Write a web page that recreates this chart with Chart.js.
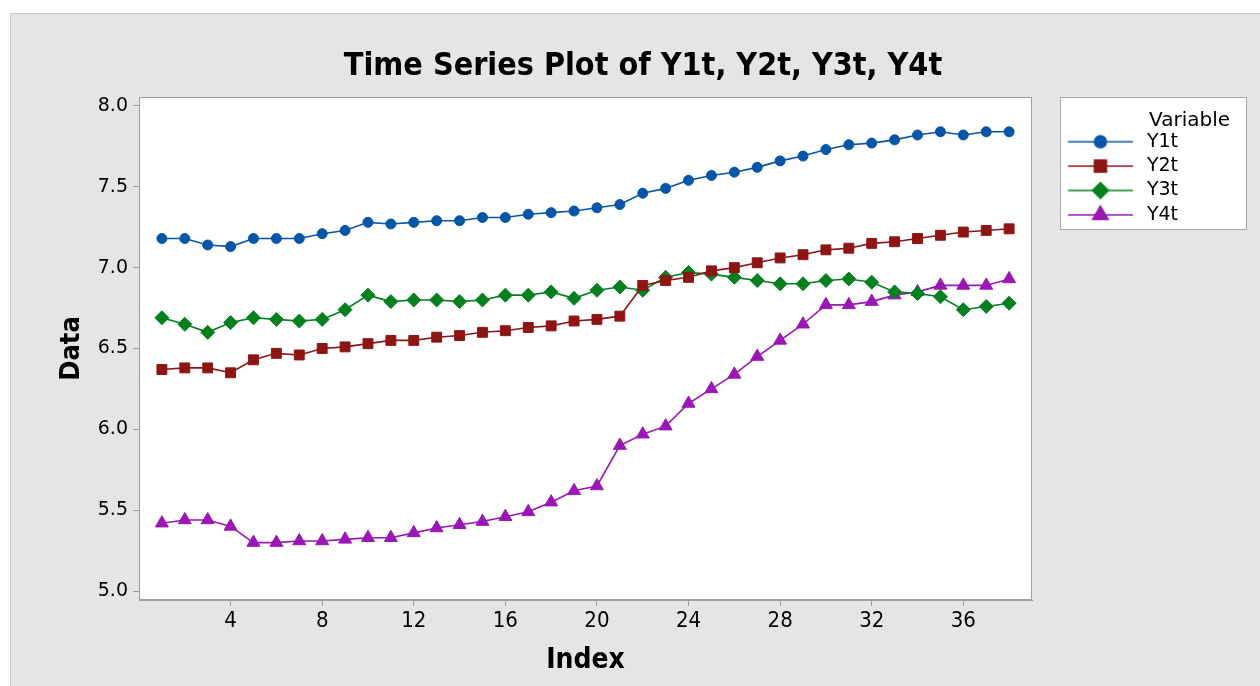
<!DOCTYPE html>
<html>
<head>
<meta charset="utf-8">
<script src="https://cdn.jsdelivr.net/npm/chart.js@4.4.1/dist/chart.umd.min.js"></script>
<style>
html,body{margin:0;padding:0;background:#fff;overflow:hidden}
#wrap{width:1260px;height:686px;position:relative}
</style>
</head>
<body>
<div id="wrap"><canvas id="c" width="1260" height="686"></canvas></div>
<script>
// ---------- data ----------
const indexValues = [1,2,3,4,5,6,7,8,9,10,11,12,13,14,15,16,17,18,19,20,21,22,23,24,25,26,27,28,29,30,31,32,33,34,35,36,37,38];
const y1t = [7.18,7.18,7.14,7.13,7.18,7.18,7.18,7.21,7.23,7.28,7.27,7.28,7.29,7.29,7.31,7.31,7.33,7.34,7.35,7.37,7.39,7.46,7.49,7.54,7.57,7.59,7.62,7.66,7.69,7.73,7.76,7.77,7.79,7.82,7.84,7.82,7.84,7.84];
const y2t = [6.37,6.38,6.38,6.35,6.43,6.47,6.46,6.50,6.51,6.53,6.55,6.55,6.57,6.58,6.60,6.61,6.63,6.64,6.67,6.68,6.70,6.89,6.92,6.94,6.98,7.00,7.03,7.06,7.08,7.11,7.12,7.15,7.16,7.18,7.20,7.22,7.23,7.24];
const y3t = [6.69,6.65,6.60,6.66,6.69,6.68,6.67,6.68,6.74,6.83,6.79,6.80,6.80,6.79,6.80,6.83,6.83,6.85,6.81,6.86,6.88,6.86,6.94,6.97,6.96,6.94,6.92,6.90,6.90,6.92,6.93,6.91,6.85,6.84,6.82,6.74,6.76,6.78];
const y4t = [5.42,5.44,5.44,5.40,5.30,5.30,5.31,5.31,5.32,5.33,5.33,5.36,5.39,5.41,5.43,5.46,5.49,5.55,5.62,5.65,5.90,5.97,6.02,6.16,6.25,6.34,6.45,6.55,6.65,6.77,6.77,6.79,6.83,6.85,6.89,6.89,6.89,6.93];
const seriesNames = ['Y1t','Y2t','Y3t','Y4t'];
const yTickValues = [5.0,5.5,6.0,6.5,7.0,7.5,8.0];
const xTickValues = [4,8,12,16,20,24,28,32,36];
const chartTitle = 'Time Series Plot of Y1t, Y2t, Y3t, Y4t';
const xAxisTitle = 'Index';
const yAxisTitle = 'Data';
const legendTitle = 'Variable';

// ---------- styles ----------
const seriesValues = [y1t, y2t, y3t, y4t];
const colors = ['#0656a8', '#8e1515', '#05801f', '#9a17b5'];
const shapes = ['circle', 'rect', 'rectRot', 'triangle'];
const radii = [5, 7, 7, 7.5];
const legendRadii = [6, 8.5, 8, 9];
const narrow = '"Liberation Sans Narrow", "DejaVu Sans Condensed", "Liberation Sans", sans-serif';
const wide = '"DejaVu Sans", Verdana, sans-serif';

function makeLegendIcon(color, style, r) {
  const c = document.createElement('canvas');
  c.width = 100; c.height = 24;
  const g = c.getContext('2d');
  g.strokeStyle = color; g.lineWidth = 1.5;
  g.beginPath(); g.moveTo(30.6, 12); g.lineTo(95.6, 12); g.stroke();
  g.fillStyle = color; g.strokeStyle = color;
  Chart.helpers.drawPoint(g, {pointStyle: style, radius: r, rotation: 0, borderWidth: 1}, 63, 12);
  return c;
}
const legendIcons = colors.map((c, i) => makeLegendIcon(c, shapes[i], legendRadii[i]));

const datasets = seriesNames.map((name, i) => ({
  label: name,
  data: indexValues.map((x, k) => ({x: x, y: seriesValues[i][k]})),
  borderColor: colors[i],
  backgroundColor: colors[i],
  borderWidth: 1.6,
  pointStyle: shapes[i],
  pointRadius: radii[i],
  pointBorderWidth: 1,
  pointBorderColor: colors[i],
  pointBackgroundColor: colors[i],
  tension: 0
}));

const framePlugin = {
  id: 'frame',
  beforeLayout(chart) {
    const lg = chart.legend;
    if (lg && !lg._fixedFit) {
      const orig = lg.fit.bind(lg);
      lg.fit = function () { orig(); this.width = 198; };
      lg._fixedFit = true;
    }
  },
  beforeDraw(chart) {
    const {ctx, chartArea: a, legend} = chart;
    ctx.save();
    ctx.fillStyle = '#ffffff';
    ctx.fillRect(0, 0, chart.width, chart.height);
    ctx.fillStyle = '#e5e5e5';
    ctx.fillRect(10, 13, chart.width - 10, chart.height - 13);
    ctx.strokeStyle = '#c8c8c8';
    ctx.lineWidth = 1;
    ctx.strokeRect(10.5, 13.5, chart.width + 10, chart.height + 10);
    ctx.fillStyle = '#ffffff';
    ctx.fillRect(a.left, a.top, a.right - a.left, a.bottom - a.top);
    const lx = Math.round(legend.left + 28) + 0.5, ly = Math.round(a.top) + 0.5;
    ctx.fillRect(lx, ly, 186, 132);
    ctx.strokeStyle = '#a8a8a8';
    ctx.strokeRect(lx, ly, 186, 132);
    ctx.restore();
  },
  beforeDatasetsDraw(chart) {
    const {ctx, chartArea: a} = chart;
    ctx.save();
    ctx.strokeStyle = '#a0a0a0';
    ctx.lineWidth = 1;
    ctx.strokeRect(Math.round(a.left) + 0.5, Math.round(a.top) + 0.5, Math.round(a.right - a.left) - 1, Math.round(a.bottom - a.top) - 1);
    ctx.restore();
  }
};

new Chart(document.getElementById('c'), {
  type: 'line',
  data: {datasets},
  plugins: [framePlugin],
  options: {
    responsive: false,
    animation: false,
    devicePixelRatio: 1,
    layout: {padding: {left: 56, right: 30, top: 0, bottom: 0}},
    plugins: {
      title: {
        display: true, text: chartTitle, color: '#000',
        font: {family: narrow, size: 32, weight: 'bold', lineHeight: 1.2},
        padding: {top: 47.8, bottom: 10.8}
      },
      legend: {
        display: true, position: 'right', align: 'start', fullSize: false,
        title: {
          display: true, text: legendTitle, position: 'end', color: '#000',
          font: {family: wide, size: 20, lineHeight: 1},
          padding: {top: 14, bottom: -4.2}
        },
        labels: {
          color: '#000', font: {family: wide, size: 19},
          usePointStyle: true, pointStyleWidth: 100, padding: 5.4,
          generateLabels(chart) {
            const items = Chart.defaults.plugins.legend.labels.generateLabels(chart);
            items.forEach((it, i) => { it.pointStyle = legendIcons[i]; });
            return items;
          }
        }
      },
      tooltip: {enabled: false}
    },
    scales: {
      x: {
        type: 'linear', min: 0, max: 39,
        afterBuildTicks: (s) => { s.ticks = xTickValues.map(v => ({value: v})); },
        afterFit: (s) => { s.height = 86; },
        grid: {display: true, drawOnChartArea: false, drawTicks: true, tickLength: 6, color: '#a0a0a0'},
        border: {display: true, color: '#a0a0a0'},
        ticks: {color: '#000', font: {family: narrow, size: 22}, padding: 2, maxRotation: 0, autoSkip: false,
          callback: (v) => String(v)},
        title: {display: true, text: xAxisTitle, color: '#000',
          font: {family: narrow, size: 28, weight: 'bold', lineHeight: 1.2}, padding: {top: 0, bottom: 8}}
      },
      y: {
        type: 'linear', min: 4.945, max: 8.055,
        afterBuildTicks: (s) => { s.ticks = yTickValues.map(v => ({value: v})); },
        afterFit: (s) => { s.width = 83; },
        grid: {display: true, drawOnChartArea: false, drawTicks: true, tickLength: 6, color: '#a0a0a0'},
        border: {display: true, color: '#a0a0a0'},
        ticks: {color: '#000', font: {family: wide, size: 19}, padding: 5, autoSkip: false,
          callback: (v) => Number(v).toFixed(1)},
        title: {display: true, text: yAxisTitle, color: '#000',
          font: {family: narrow, size: 27, weight: 'bold', lineHeight: 1.2}, padding: {top: 0, bottom: 0}}
      }
    }
  }
});
</script>
</body>
</html>
